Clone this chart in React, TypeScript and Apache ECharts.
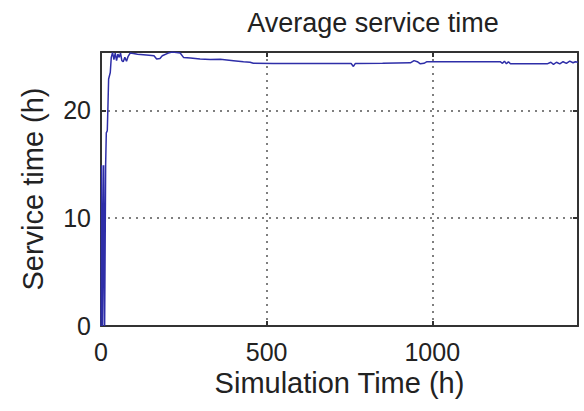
import React, { useEffect, useRef } from "react";
import * as echarts from "echarts";

const titleText = "Average service time";
const xAxisName = "Simulation Time (h)";
const yAxisName = "Service time (h)";

const simTime = [
  0, 2, 5, 8, 11, 14, 16, 19, 21, 23, 28, 31, 35, 39, 43, 47, 51, 55, 59, 63, 67, 72, 77, 82, 88,
  98, 110, 128, 145, 160, 168, 178, 185, 203, 215, 228, 239, 249, 270, 299, 330, 360, 400, 430,
  450, 460, 520, 571, 650, 755, 762, 768, 850, 934, 945, 955, 964, 975, 984, 994, 1100, 1205,
  1212, 1218, 1224, 1230, 1236, 1245, 1300, 1347, 1358, 1366, 1375, 1385, 1395, 1405, 1415,
  1425, 1432, 1440,
];
const serviceTime = [
  0, 14.9, 0, 14.9, 0, 14.9, 17.9, 18.1, 20.4, 22.9, 23.5, 24.9, 25.35, 24.7, 25.3, 24.6, 25.2,
  24.9, 25.3, 24.6, 24.5, 24.9, 24.55, 25.0, 25.3, 25.25, 25.2, 25.15, 25.1, 25.05, 24.75, 24.8,
  25.05, 25.3, 25.4, 25.35, 25.3, 24.9, 24.85, 24.75, 24.7, 24.72, 24.6, 24.5, 24.45, 24.35,
  24.33, 24.34, 24.34, 24.34, 24.06, 24.34, 24.35, 24.4, 24.6, 24.5, 24.3, 24.35, 24.5, 24.5,
  24.5, 24.5, 24.35, 24.55, 24.3, 24.5, 24.3, 24.3, 24.3, 24.3, 24.45, 24.25, 24.45, 24.3, 24.5,
  24.35, 24.55, 24.4, 24.5, 24.45,
];

const xMin = 0;
const xMax = 1440;
const xInterval = 500;
const yMin = 0;
const yMax = 25.4;
const yInterval = 10;

const FONT = "'Liberation Sans', Arial, sans-serif";
const AXIS_COLOR = "#333";
const TEXT_COLOR = "#222";

export default function App() {
  const ref = useRef<HTMLDivElement>(null);

  useEffect(() => {
    if (!ref.current) return;
    const chart = echarts.init(ref.current, undefined, { renderer: "svg" });
    const axisLine = { show: true, onZero: false, lineStyle: { color: AXIS_COLOR, width: 2 } };
    const axisTick = { show: true, inside: true, length: 5, lineStyle: { color: AXIS_COLOR, width: 2 } };
    const splitLine = {
      show: true,
      showMinLine: false,
      showMaxLine: false,
      lineStyle: { color: "#555", width: 1.5, type: [2, 5] as number[] },
    };
    const fmt = (v: number) => String(v);
    const data = simTime.map((t, i) => [t, serviceTime[i]]);
    chart.setOption({
      animation: false,
      backgroundColor: "#fff",
      title: {
        text: titleText,
        left: 368,
        top: 4,
        textAlign: "center",
        textStyle: { fontFamily: FONT, fontSize: 27, fontWeight: "normal", color: TEXT_COLOR },
      },
      grid: { left: 101, right: 6, top: 52, bottom: 85 },
      xAxis: [
        {
          type: "value",
          min: xMin,
          max: xMax,
          interval: xInterval,
          position: "bottom",
          name: xAxisName,
          nameLocation: "middle",
          nameGap: 40,
          nameTextStyle: { fontFamily: FONT, fontSize: 29, color: TEXT_COLOR },
          axisLine,
          axisTick,
          axisLabel: {
            show: true,
            margin: 13,
            fontFamily: FONT,
            fontSize: 25,
            color: TEXT_COLOR,
            showMaxLabel: false,
            formatter: fmt,
          },
          splitLine,
        },
        {
          type: "value",
          min: xMin,
          max: xMax,
          interval: xInterval,
          position: "top",
          axisLine,
          axisTick,
          axisLabel: { show: false },
          splitLine: { show: false },
        },
      ],
      yAxis: [
        {
          type: "value",
          min: yMin,
          max: yMax,
          interval: yInterval,
          position: "left",
          name: yAxisName,
          nameLocation: "middle",
          nameGap: 54,
          nameTextStyle: { fontFamily: FONT, fontSize: 29, color: TEXT_COLOR },
          axisLine,
          axisTick,
          axisLabel: {
            show: true,
            margin: 10,
            fontFamily: FONT,
            fontSize: 25,
            color: TEXT_COLOR,
            showMaxLabel: false,
            formatter: fmt,
          },
          splitLine,
        },
        {
          type: "value",
          min: yMin,
          max: yMax,
          interval: yInterval,
          position: "right",
          axisLine,
          axisTick,
          axisLabel: { show: false },
          splitLine: { show: false },
        },
      ],
      series: [
        {
          type: "line",
          data,
          xAxisIndex: 0,
          yAxisIndex: 0,
          showSymbol: false,
          symbol: "none",
          lineStyle: { color: "#2e2ea8", width: 1.5 },
          z: 3,
        },
      ],
    });
    return () => chart.dispose();
  }, []);

  return (
    <div
      ref={ref}
      style={{ position: "fixed", left: 0, top: 0, width: 584, height: 411, background: "#fff" }}
    />
  );
}
